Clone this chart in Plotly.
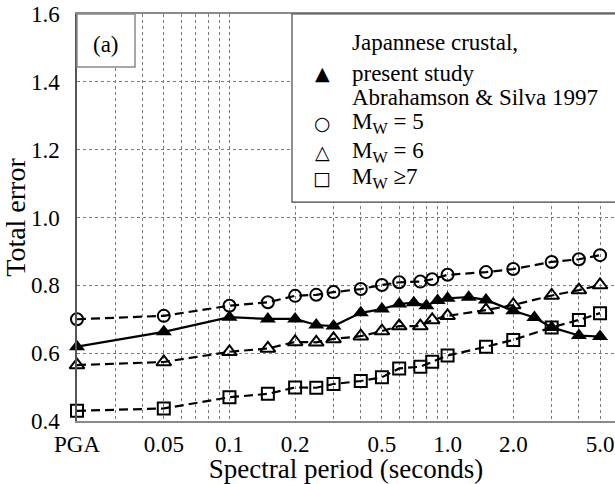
import math
import plotly.graph_objects as go

# Spectral periods (s); PGA is placed at 0.02 s on the log axis
periods_present = [0.02, 0.05, 0.1, 0.15, 0.2, 0.25, 0.3, 0.4, 0.5, 0.6, 0.7,
                   0.8, 0.9, 1.0, 1.25, 1.5, 2.0, 2.5, 3.0, 4.0, 5.0]
present_study = [0.619, 0.663, 0.706, 0.701, 0.701, 0.683, 0.680, 0.719, 0.730,
                 0.745, 0.749, 0.740, 0.755, 0.762, 0.765, 0.757, 0.725, 0.705,
                 0.676, 0.652, 0.649]

periods_as97 = [0.02, 0.05, 0.1, 0.15, 0.2, 0.25, 0.3, 0.4, 0.5, 0.6, 0.75,
                0.85, 1.0, 1.5, 2.0, 3.0, 4.0, 5.0]
as97_mw5 = [0.700, 0.710, 0.740, 0.750, 0.769, 0.772, 0.780, 0.789, 0.801,
            0.809, 0.811, 0.818, 0.831, 0.839, 0.848, 0.869, 0.877, 0.889]
as97_mw6 = [0.565, 0.574, 0.604, 0.614, 0.633, 0.632, 0.642, 0.650, 0.665,
            0.680, 0.680, 0.698, 0.710, 0.727, 0.742, 0.770, 0.786, 0.801]
as97_mw7 = [0.430, 0.437, 0.470, 0.480, 0.499, 0.498, 0.509, 0.518, 0.529,
            0.555, 0.560, 0.575, 0.593, 0.619, 0.639, 0.676, 0.698, 0.718]

# Labelled periods on the x axis
x_tick_vals = [0.02, 0.05, 0.1, 0.2, 0.5, 1.0, 2.0, 5.0]
x_tick_text = ["PGA", "0.05", "0.1", "0.2", "0.5", "1.0", "2.0", "5.0"]
y_ticks = [0.4, 0.6, 0.8, 1.0, 1.2, 1.4, 1.6]

SERIF = "Liberation Serif"
DASH = "9px,5px"
GRID = "#7a7a7a"

fig = go.Figure()

fig.add_trace(go.Scatter(
    x=periods_as97, y=as97_mw5, mode="lines+markers", name="Mw = 5",
    line=dict(color="black", width=2.2, dash=DASH), cliponaxis=False,
    marker=dict(symbol="circle-open", size=12, color="black", line=dict(width=2)),
    showlegend=False))
fig.add_trace(go.Scatter(
    x=periods_as97, y=as97_mw6, mode="lines+markers", name="Mw = 6",
    line=dict(color="black", width=2.2, dash=DASH), cliponaxis=False,
    marker=dict(symbol="triangle-up-open", size=13, color="black", line=dict(width=2)),
    showlegend=False))
fig.add_trace(go.Scatter(
    x=periods_as97, y=as97_mw7, mode="lines+markers", name="Mw >= 7",
    line=dict(color="black", width=2.2, dash=DASH), cliponaxis=False,
    marker=dict(symbol="square-open", size=12, color="black", line=dict(width=2)),
    showlegend=False))
fig.add_trace(go.Scatter(
    x=periods_present, y=present_study, mode="lines+markers",
    name="Japannese crustal, present study",
    line=dict(color="black", width=2.2), cliponaxis=False,
    marker=dict(symbol="triangle-up", size=14, color="black"),
    showlegend=False))

# Panel label box and legend box
fig.add_shape(type="rect", xref="paper", yref="paper", x0=0, x1=0.1078,
              y0=0.8698, y1=1.0, fillcolor="white", layer="above",
              line=dict(color="#8a8a8a", width=1.5))
fig.add_shape(type="rect", xref="paper", yref="paper", x0=0.3996, x1=1.02,
              y0=0.538, y1=1.0, fillcolor="white", layer="above",
              line=dict(color="#444444", width=1.2))

annotations = [
    dict(x=0.0539, y=0.926, text="(a)", font=dict(size=23)),
]

legend_x = 0.5074
sym_x = 0.4554
legend_rows = [
    (0.931, None, "Japannese crustal,"),
    (0.855, "▲", "present study"),
    (0.796, None, "Abrahamson & Silva 1997"),
    (0.732, "○", "M<sub>W</sub> = 5"),
    (0.661, "△", "M<sub>W</sub> = 6"),
    (0.597, "□", "M<sub>W</sub> ≥7"),
]
for yy, sym, txt in legend_rows:
    annotations.append(dict(x=legend_x, y=yy, text=txt, xanchor="left",
                            font=dict(size=23)))
    if sym:
        annotations.append(dict(x=sym_x, y=yy, text=sym, xanchor="center",
                                font=dict(size=19, family="DejaVu Sans")))

for a in annotations:
    a.setdefault("xanchor", "center")
    a.update(xref="paper", yref="paper", yanchor="middle", showarrow=False)
    a["font"].setdefault("family", SERIF)
    a["font"].setdefault("color", "black")

fig.update_layout(
    width=615, height=484,
    margin=dict(l=77, r=0, t=14, b=63),
    paper_bgcolor="white", plot_bgcolor="white",
    font=dict(family=SERIF, color="black"),
    annotations=annotations,
    xaxis=dict(
        type="log",
        range=[math.log10(0.02), math.log10(5.855)],
        tickvals=x_tick_vals,
        ticktext=x_tick_text,
        ticks="", ticklabelstandoff=1,
        tickfont=dict(size=23, family=SERIF, color="black"),
        showgrid=True, gridcolor=GRID, griddash="dot", gridwidth=1,
        minor=dict(dtick="D1", showgrid=True, gridcolor=GRID,
                   griddash="dot", gridwidth=1, ticks=""),
        showline=True, linecolor="#8a8a8a", linewidth=2, mirror=True,
        zeroline=False,
        title=dict(text="Spectral period (seconds)", standoff=4,
                   font=dict(size=27, family=SERIF, color="black")),
    ),
    yaxis=dict(
        range=[0.4, 1.6],
        tickvals=y_ticks,
        ticktext=[f"{v:.1f}" for v in y_ticks],
        ticks="", ticklabelstandoff=11,
        tickfont=dict(size=23, family=SERIF, color="black"),
        showgrid=True, gridcolor=GRID, griddash="dot", gridwidth=1,
        showline=True, linecolor="#555555", linewidth=1.5,
        zeroline=False,
        title=dict(text="Total error", standoff=1,
                   font=dict(size=28, family=SERIF, color="black")),
    ),
)

fig.write_html("out.html")
